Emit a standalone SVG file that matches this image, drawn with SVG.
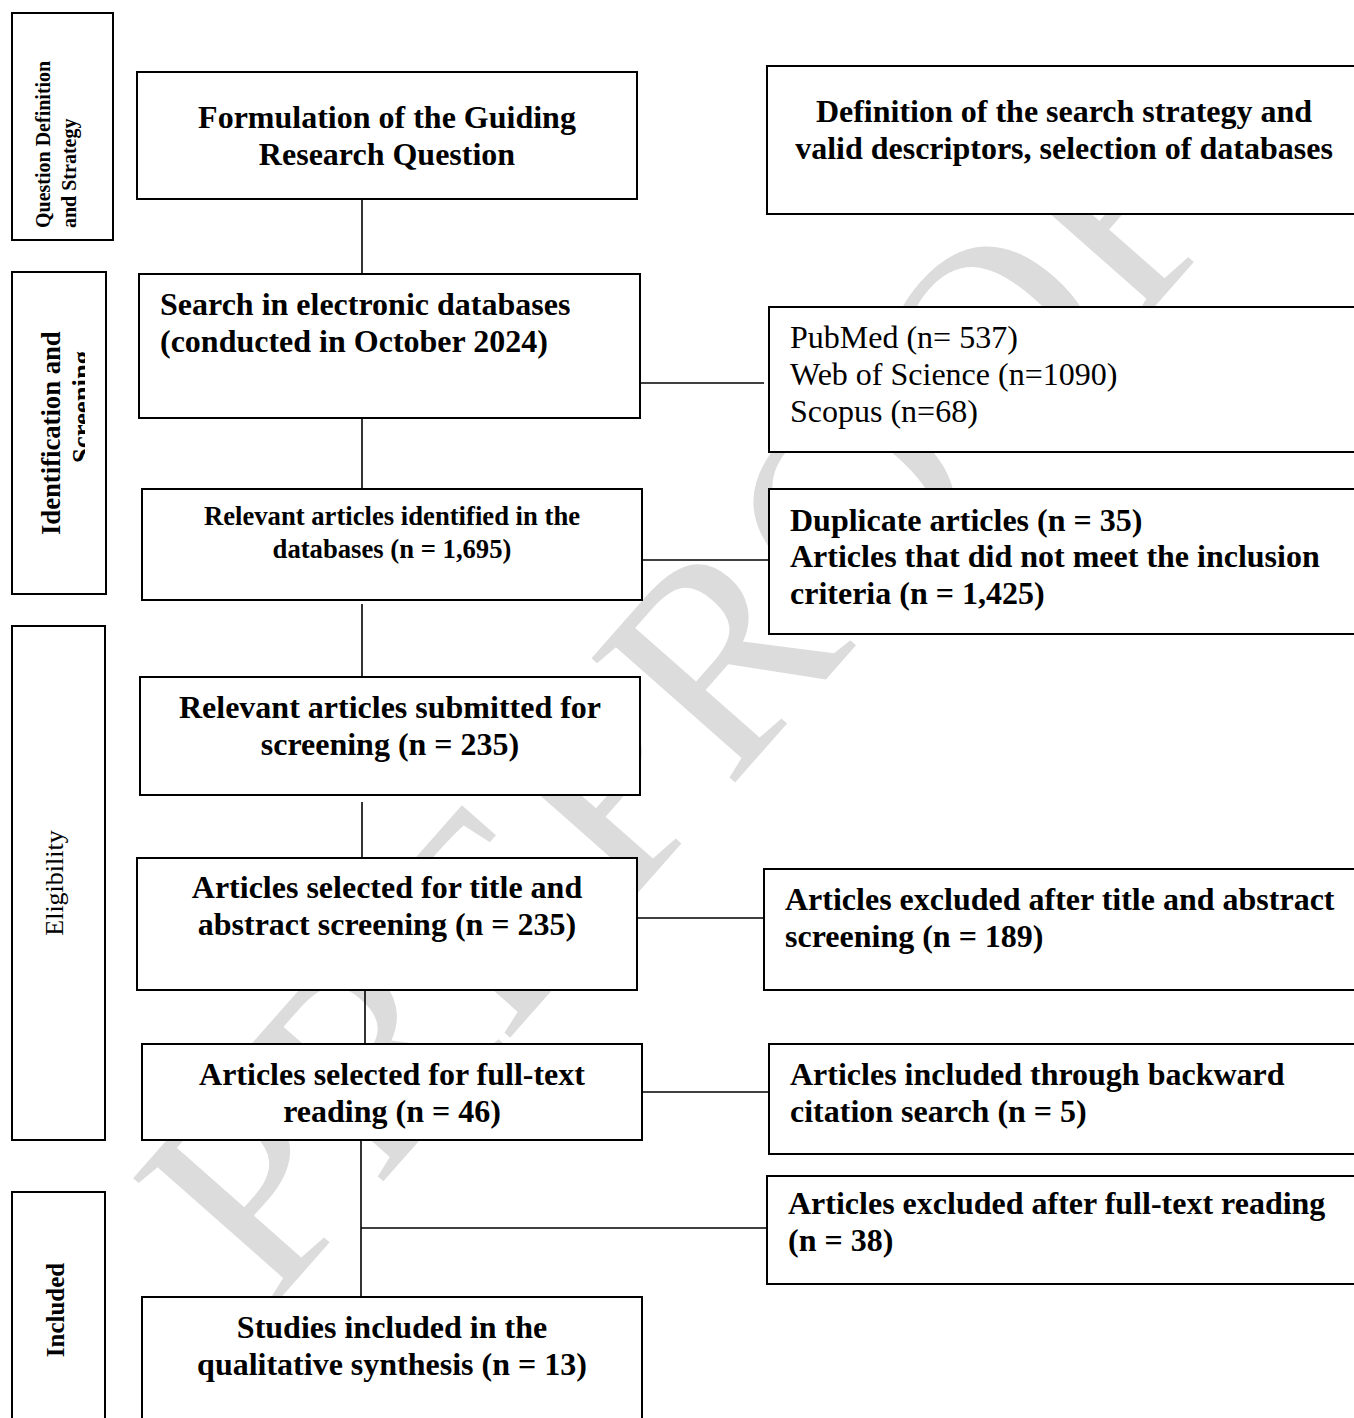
<svg xmlns="http://www.w3.org/2000/svg" width="1354" height="1418" viewBox="0 0 1354 1418">
<defs>
<style>
.box{fill:#fff;stroke:#000;stroke-width:2}
.side{fill:none;stroke:#000;stroke-width:2}
.ln{stroke:#000;stroke-width:1.6;fill:none}
.t{font-family:"Liberation Serif","Times New Roman",serif;fill:#000}
.b32{font-size:32px;font-weight:bold}
.r32{font-size:32px;font-weight:normal}
.b27{font-size:26.67px;font-weight:bold}
.mid{text-anchor:middle}
.wm{font-family:"Liberation Serif","Times New Roman",serif;font-size:290px;fill:#dcdcdc}
</style>
<clipPath id="clipB"><rect x="12" y="272" width="73" height="322"/></clipPath>
</defs>
<rect width="1354" height="1418" fill="#fff"/>
<g id="watermark">
<text class="wm" transform="translate(270,1310) rotate(-48.6)" x="0" y="0">PREPROOF</text>
</g>
<g id="connectors">
<line class="ln" x1="362" y1="199" x2="362" y2="274"/>
<line class="ln" x1="637" y1="383" x2="764" y2="383"/>
<line class="ln" x1="362" y1="418" x2="362" y2="489"/>
<line class="ln" x1="642" y1="560" x2="769" y2="560"/>
<line class="ln" x1="362" y1="604" x2="362" y2="677"/>
<line class="ln" x1="362" y1="802" x2="362" y2="858"/>
<line class="ln" x1="637" y1="918" x2="764" y2="918"/>
<line class="ln" x1="365" y1="990" x2="365" y2="1044"/>
<line class="ln" x1="642" y1="1092" x2="769" y2="1092"/>
<line class="ln" x1="361" y1="1140" x2="361" y2="1297"/>
<line class="ln" x1="361" y1="1228" x2="767" y2="1228"/>
</g>
<g id="stage-question">
<rect class="side" x="12" y="13" width="101" height="227"/>
<text class="t" style="font-size:20px;font-weight:bold" transform="translate(50,228) rotate(-90)">Question Definition</text>
<text class="t" style="font-size:20px;font-weight:bold" transform="translate(76,228) rotate(-90)">and Strategy</text>
</g>
<g id="stage-identification">
<rect class="side" x="12" y="272" width="94" height="322"/>
<text class="t b27" transform="translate(60,535) rotate(-90)">Identification and</text>
<g clip-path="url(#clipB)"><text class="t b27" transform="translate(91,463) rotate(-90)">Screening</text></g>
</g>
<g id="stage-eligibility">
<rect class="side" x="12" y="626" width="93" height="514"/>
<text class="t mid" style="font-size:26px" transform="translate(63,883) rotate(-90)">Eligibility</text>
</g>
<g id="stage-included">
<rect class="side" x="12" y="1192" width="93" height="240"/>
<text class="t mid" style="font-size:25px;font-weight:bold" transform="translate(64,1310) rotate(-90)">Included</text>
</g>
<g id="n1">
<rect class="box" x="137" y="72" width="500" height="127"/>
<text class="t b32 mid" x="387" y="128">Formulation of the Guiding</text>
<text class="t b32 mid" x="387" y="165">Research Question</text>
</g>
<g id="n2">
<rect class="box" x="767" y="66" width="595" height="148"/>
<text class="t b32 mid" x="1064" y="122">Definition of the search strategy and</text>
<text class="t b32 mid" x="1064" y="159">valid descriptors, selection of databases</text>
</g>
<g id="n3">
<rect class="box" x="139" y="274" width="501" height="144"/>
<text class="t b32" x="160" y="315">Search in electronic databases</text>
<text class="t b32" x="160" y="352">(conducted in October 2024)</text>
</g>
<g id="n4">
<rect class="box" x="769" y="307" width="593" height="145"/>
<text class="t r32" x="790" y="348">PubMed (n= 537)</text>
<text class="t r32" x="790" y="385">Web of Science (n=1090)</text>
<text class="t r32" x="790" y="422">Scopus (n=68)</text>
</g>
<g id="n5">
<rect class="box" x="142" y="489" width="500" height="111"/>
<text class="t b27 mid" x="392" y="525">Relevant articles identified in the</text>
<text class="t b27 mid" x="392" y="558">databases (n = 1,695)</text>
</g>
<g id="n6">
<rect class="box" x="769" y="489" width="593" height="145"/>
<text class="t b32" x="790" y="531">Duplicate articles (n = 35)</text>
<text class="t b32" x="790" y="567">Articles that did not meet the inclusion</text>
<text class="t b32" x="790" y="604">criteria (n = 1,425)</text>
</g>
<g id="n7">
<rect class="box" x="140" y="677" width="500" height="118"/>
<text class="t b32 mid" x="390" y="718">Relevant articles submitted for</text>
<text class="t b32 mid" x="390" y="755">screening (n = 235)</text>
</g>
<g id="n8">
<rect class="box" x="137" y="858" width="500" height="132"/>
<text class="t b32 mid" x="387" y="898">Articles selected for title and</text>
<text class="t b32 mid" x="387" y="935">abstract screening (n = 235)</text>
</g>
<g id="n9">
<rect class="box" x="764" y="869" width="598" height="121"/>
<text class="t b32" x="785" y="910">Articles excluded after title and abstract</text>
<text class="t b32" x="785" y="947">screening (n = 189)</text>
</g>
<g id="n10">
<rect class="box" x="142" y="1044" width="500" height="96"/>
<text class="t b32 mid" x="392" y="1085">Articles selected for full-text</text>
<text class="t b32 mid" x="392" y="1122">reading (n = 46)</text>
</g>
<g id="n11">
<rect class="box" x="769" y="1044" width="593" height="110"/>
<text class="t b32" x="790" y="1085">Articles included through backward</text>
<text class="t b32" x="790" y="1122">citation search (n = 5)</text>
</g>
<g id="n12">
<rect class="box" x="767" y="1176" width="595" height="108"/>
<text class="t b32" x="788" y="1214">Articles excluded after full-text reading</text>
<text class="t b32" x="788" y="1251">(n = 38)</text>
</g>
<g id="n13">
<rect class="box" x="142" y="1297" width="500" height="135"/>
<text class="t b32 mid" x="392" y="1338">Studies included in the</text>
<text class="t b32 mid" x="392" y="1375">qualitative synthesis (n = 13)</text>
</g>
</svg>
